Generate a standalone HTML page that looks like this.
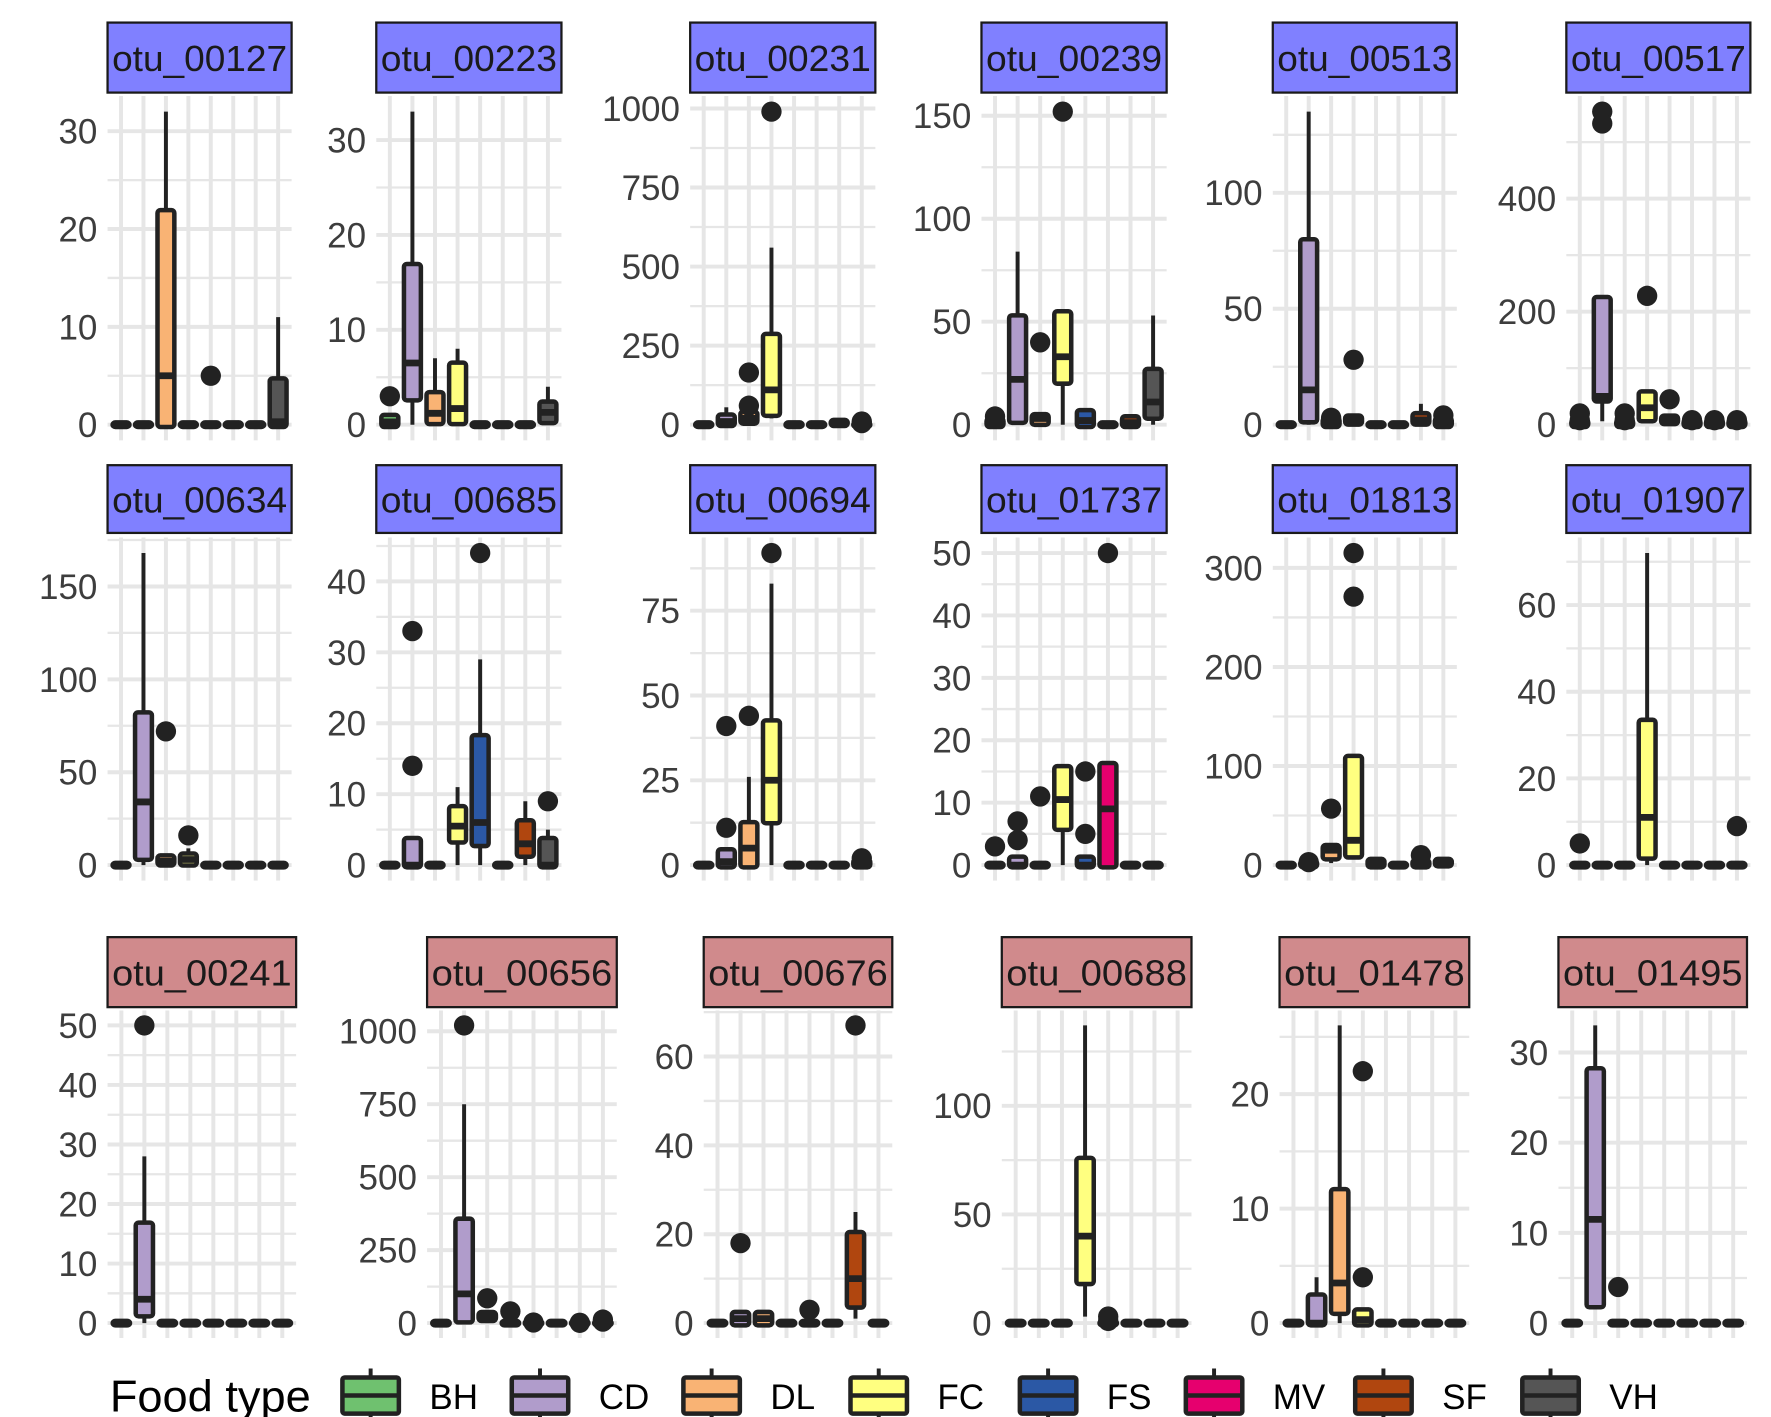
<!DOCTYPE html>
<html><head><meta charset="utf-8"><style>
html,body{margin:0;padding:0;background:#fff;}
svg{display:block;font-family:"Liberation Sans",sans-serif;}
</style></head><body>
<svg id="chart" width="1771" height="1417" viewBox="0 0 1568 1255" xmlns="http://www.w3.org/2000/svg"></svg>
<script>
const categories = ["BH","CD","DL","FC","FS","MV","SF","VH"];
const colors = ["#6fc16f","#b09ccb","#f9b374","#ffff80","#2b58a5","#e6006e","#b0460f","#555555"];
const panelNames = ["otu_00127","otu_00223","otu_00231","otu_00239","otu_00513","otu_00517",
"otu_00634","otu_00685","otu_00694","otu_01737","otu_01813","otu_01907",
"otu_00241","otu_00656","otu_00676","otu_00688","otu_01478","otu_01495"];
const Z=[0,0,0,0,0];
// box stats: [lower whisker, q1, median, q3, upper whisker]
const boxStats = [
[Z,Z,[0,0,5,21.7,32],Z,Z,Z,Z,[0,0,0.3,4.5,11]],
[[0,0,0.3,0.8,0.8],[0,2.8,6.5,16.7,33],[0,0.3,1.2,3.2,7],[0,0.3,1.7,6.3,8],Z,Z,Z,[0,0.4,1.3,2.2,4]],
[Z,[0,3,10,25,55],[0,10,20,35,40],[20,35,110,280,560],Z,Z,[0,3,5,8,10],Z],
[[0,0,0,2,2],[0,2,22,52,84],[0,1,3,4,4],[0,21,33,54,55],[0,0,2,6,8],Z,[0,0,1,3,5],[0,4,11,26,53]],
[Z,[0,2,15,79,135],[0,0,1,2,2],[0,1,2,3,3],Z,Z,[0,1,2,4,9],[0,0,1,2,2]],
[[0,0,0,5,5],[6,45,50,222,222],[0,0,2,5,5],[5,10,30,55,55],[0,5,10,12,12],[0,0,2,5,5],[0,0,2,5,5],[0,0,2,5,5]],
[Z,[0,4,34,81,168],[0,1,2,4,4],[0,1,3,5,9],Z,Z,Z,Z],
[Z,[0,0,0,3.5,3.5],Z,[0,3.5,5.5,8,11],[0,3,6,18,29],Z,[0,1.5,3,6,9],[0,0,0,3.5,5]],
[Z,[0,0,1,4,4],[0,0,5,12,26],[0,13,25,42,83],Z,Z,Z,[0,0,0,1,1]],
[Z,[0,0,0,1,1],Z,[0,6,10.5,15.5,16],[0,0,0,1,1],[0,0,9,16,16],Z,Z],
[Z,[0,0,1,2,2],[2,8,15,18,18],[8,10,25,108,108],[0,0,2,4,4],Z,[0,0,1,3,3],[0,1,3,4,4]],
[Z,Z,Z,[0,2,11,33,72],Z,Z,Z,Z],
[Z,[0,1.5,4,16.5,28],Z,Z,Z,Z,Z,Z],
[Z,[0,10,100,350,750],[0,15,20,30,30],Z,Z,Z,Z,Z],
[Z,[0,0,1,2,2],[0,0,1,2,2],Z,Z,Z,[1,4,10,20,25],Z],
[Z,Z,Z,[3,19,40,75,137],Z,Z,Z,Z],
[Z,[0,0,0,2.3,4],[0,1,3.5,11.5,26],[0,0,0.3,1,1],Z,Z,Z,Z],
[Z,[2,2,11.5,28,33],Z,Z,Z,Z,Z,Z]
];
// outliers: [categoryIndex, value]
const outliers = [
[[4,5]],
[[0,3]],
[[2,60],[2,165],[3,990],[7,10],[7,5]],
[[0,4],[2,40],[3,152]],
[[2,3],[3,28],[7,4]],
[[0,20],[0,8],[1,554],[1,533],[2,20],[2,8],[3,228],[4,45],[5,8],[6,8],[7,8]],
[[2,72],[3,16]],
[[1,33],[1,14],[4,44],[7,9]],
[[1,41],[1,11],[2,44],[3,92],[7,2]],
[[0,3],[1,7],[1,4],[2,11],[4,15],[4,5],[5,50]],
[[1,3],[2,57],[3,315],[3,271],[6,10]],
[[0,5],[7,9]],
[[1,50]],
[[1,1020],[2,85],[3,40],[4,2],[6,1],[7,12],[7,5]],
[[1,18],[4,3],[6,67]],
[[4,3],[4,1]],
[[3,22],[3,4]],
[[2,4]]
];
const yTicks = [
[0,10,20,30],[0,10,20,30],[0,250,500,750,1000],[0,50,100,150],[0,50,100],[0,200,400],
[0,50,100,150],[0,10,20,30,40],[0,25,50,75],[0,10,20,30,40,50],[0,100,200,300],[0,20,40,60],
[0,10,20,30,40,50],[0,250,500,750,1000],[0,20,40,60],[0,50,100],[0,10,20],[0,10,20,30]
];
const groupColor = ["#8080ff","#d08a8c"];

const svg=document.getElementById('chart');
const NS="http://www.w3.org/2000/svg";
function mk(tag,attrs,parent){const e=document.createElementNS(NS,tag);for(const k in attrs)e.setAttribute(k,attrs[k]);(parent||svg).appendChild(e);return e;}

const colX=[[[95,258],[333,497],[611,775],[869,1033],[1127,1290],[1387,1550]],
            [[95,258],[333,497],[611,775],[869,1033],[1127,1290],[1387,1550]],
            [[95,262],[378,546],[623,790],[887,1055],[1133,1301],[1380,1547]]];
const rowY=[[20,82,85,390],[412,472,476,780],[830,892,895,1185]];

panelNames.forEach((name,p)=>{
  const r=Math.floor(p/6), c=p%6;
  const [x0,x1]=colX[r][c]; const [sy0,sy1,py0,py1]=rowY[r];
  const g=mk('g',{});
  
  
  let mx=0; boxStats[p].forEach(b=>{mx=Math.max(mx,b[4]);}); outliers[p].forEach(o=>{mx=Math.max(mx,o[1]);});
  const lo=-0.05*mx, hi=mx*1.05;
  const y=v=>py1-(v-lo)/(hi-lo)*(py1-py0);
  const step=(x1-x0)/(categories.length-1+1.2);
  const x=i=>x0+(0.6+i)*step;
  const t=yTicks[p]; const d=t[1]-t[0];
  for(let v=t[0]-d/2; v<=hi; v+=d/2){
    if(v<lo) continue;
    const major=Math.abs((v/d)-Math.round(v/d))<1e-6;
    const gl=mk('line',{x1:x0,x2:x1,y1:y(v),y2:y(v),stroke:'#e6e6e6','stroke-width':major?3.5:2},g);
    
    
  }
  categories.forEach((cat,i)=>{
    const vl=mk('line',{x1:x(i),x2:x(i),y1:py0,y2:py1,stroke:'#e6e6e6','stroke-width':3.5},g);
    
    
  });
  t.forEach(v=>{
    const tx=mk('text',{x:x0-9,y:y(v)+11,'text-anchor':'end','font-size':31,fill:'#3d3d3d'},g);
    tx.textContent=v;
    
    
  });
  const st=mk('rect',{x:x0,y:sy0,width:x1-x0,height:sy1-sy0,fill:groupColor[r<2?0:1],stroke:'#1a1a1a','stroke-width':2},g);
  
  
  const stt=mk('text',{x:(x0+x1)/2,y:(sy0+sy1)/2+12,'text-anchor':'middle','font-size':32,fill:'#1a1a1a',textLength:(x1-x0)-8,lengthAdjust:'spacingAndGlyphs'},g);
  stt.textContent=name;
  
  
  const bw=step*0.75;
  boxStats[p].forEach((b,i)=>{
    const bg=mk('g',{},g);
    
    
    const cx=x(i);
    mk('line',{x1:cx,x2:cx,y1:y(b[0]),y2:y(b[4]),stroke:'#222','stroke-width':3.5},bg);
    const top=y(b[3]), bot=y(b[1]);
    mk('rect',{x:cx-bw/2,y:top-2,width:bw,height:Math.max(bot-top,0)+4,rx:2.5,fill:colors[i],stroke:'#222','stroke-width':4},bg);
    mk('line',{x1:cx-bw/2,x2:cx+bw/2,y1:y(b[2]),y2:y(b[2]),stroke:'#222','stroke-width':6},bg);
  });
  outliers[p].forEach(o=>{
    const ci=mk('circle',{cx:x(o[0]),cy:y(o[1]),r:9,fill:'#222'},g);
    
    
  });
});

const lg=mk('g',{});


const lt=mk('text',{x:97,y:1250,'font-size':39,fill:'#000',textLength:178,lengthAdjust:'spacingAndGlyphs'},lg);
lt.textContent='Food type';


const keyX=[303,453,605,753,903,1050,1200,1348];
categories.forEach((cat,i)=>{
  const e=mk('g',{},lg);
  
  
  const kx=keyX[i];
  mk('line',{x1:kx+25,x2:kx+25,y1:1212,y2:1258,stroke:'#222','stroke-width':3.5},e);
  mk('rect',{x:kx,y:1220,width:50,height:32,rx:2,fill:colors[i],stroke:'#222','stroke-width':4},e);
  mk('line',{x1:kx,x2:kx+50,y1:1236,y2:1236,stroke:'#222','stroke-width':4},e);
  const tx=mk('text',{x:kx+77,y:1248,'font-size':31,fill:'#000'},e);
  tx.textContent=cat;
});
</script>
</body></html>
